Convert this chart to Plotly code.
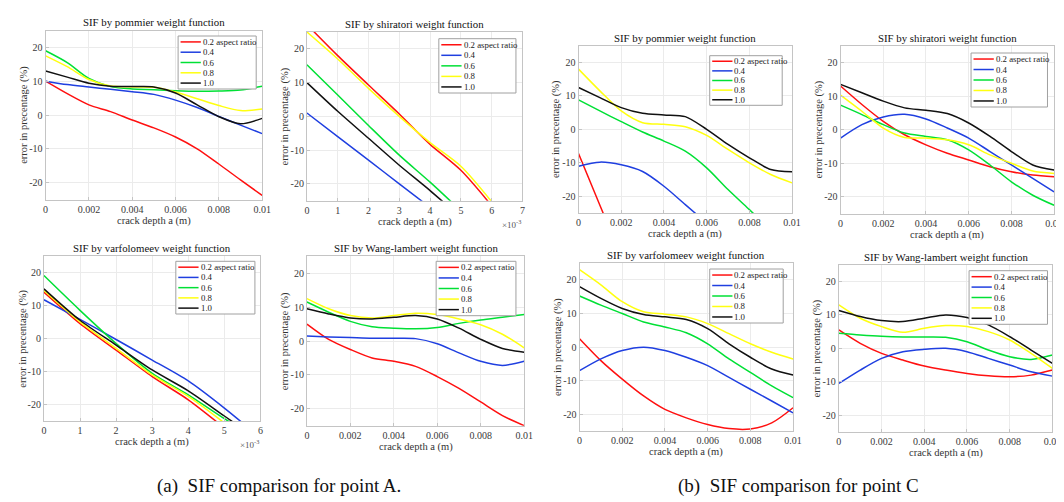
import plotly.graph_objects as go

W, H = 1064, 502
FONT = "Liberation Serif"

# ---------------- data ----------------
LABELS = ["0.2 aspect ratio", "0.4", "0.6", "0.8", "1.0"]
COLORS = ["#ff1010", "#1f3fe0", "#00e035", "#ffff10", "#111111"]

X_10 = [0, 0.001, 0.002, 0.003, 0.004, 0.005, 0.006, 0.007, 0.008, 0.009, 0.01]
X_7 = [0, 0.001, 0.002, 0.003, 0.004, 0.005, 0.006, 0.007]
X_6 = [0, 0.001, 0.002, 0.003, 0.004, 0.005, 0.006]

TICKS_10 = [0, 0.002, 0.004, 0.006, 0.008, 0.01]
TICKTEXT_10 = ["0", "0.002", "0.004", "0.006", "0.008", "0.01"]
TICKS_7 = [0, 0.001, 0.002, 0.003, 0.004, 0.005, 0.006, 0.007]
TICKTEXT_7 = ["0", "1", "2", "3", "4", "5", "6", "7"]
TICKS_6 = [0, 0.001, 0.002, 0.003, 0.004, 0.005, 0.006]
TICKTEXT_6 = ["0", "1", "2", "3", "4", "5", "6"]
Y_TICKS = [-20, -10, 0, 10, 20]
Y_TICKTEXT = ["-20", "-10", "0", "10", "20"]

# point A
A_POMMIER = [
    [10, 6.3, 3.0, 1.0, -1.5, -3.8, -6.5, -10, -14.5, -19.2, -23.8],
    [10, 9.0, 8.3, 7.6, 6.9, 6.1, 4.4, 2.2, -0.4, -3.0, -5.5],
    [19, 15.5, 10.8, 8.4, 7.7, 7.5, 7.2, 7.0, 7.1, 7.4, 8.5],
    [17.5, 14.3, 10.5, 8.6, 8.3, 8.2, 6.8, 4.8, 2.8, 1.3, 1.8],
    [13, 11.2, 9.4, 8.5, 8.4, 8.3, 6.5, 3.0, -0.5, -2.6, -1.0],
]
A_SHIRATORI = [
    [27.2, 18, 9.3, 0.7, -8.3, -16, -26.5, None],
    [1, -6, -13, -20, -27, None, None, None],
    [15.3, 6.3, -2.7, -11.5, -19.5, -28, None, None],
    [25, 17, 8.3, 0, -7.8, -14.8, -25.3, None],
    [10, 1.5, -6.5, -14.5, -22, -30, None, None],
]
A_VARFOLOMEEV = [
    [14, 4.5, -3.5, -11.5, -18.5, -27, None],
    [11.7, 5.8, -0.3, -6.5, -12.8, -21, -30],
    [19, 8.5, -1.5, -10.5, -17, -24.2, -31],
    [14.5, 5, -3, -11, -17.5, -25.5, None],
    [15, 5.5, -2, -9.5, -15.8, -23.4, -31],
]
A_WANG = [
    [5, 0.5, -2.5, -5, -6, -7.5, -10.5, -14, -18, -22, -25],
    [1.5, 1.2, 1.0, 0.8, 0.8, 0.7, -0.8, -3.5, -6, -7.2, -6],
    [11.5, 8.5, 5.8, 4.2, 3.8, 3.6, 4.0, 5.2, 6.2, 7.0, 7.8],
    [12.5, 9.5, 7.5, 6.8, 7.5, 8.2, 7.8, 6.5, 4.8, 2.0, -2.0],
    [9.5, 8.0, 6.8, 6.5, 7.0, 7.5, 6.5, 3.8, 0.5, -2.2, -3.3],
]
# point C
C_POMMIER = [
    [-7.2, -22.7, -38, None, None, None, None, None, None, None, None],
    [-11, -9.8, -10.6, -12.6, -17, -22.5, -28, None, None, None, None],
    [8.8, 5.5, 2.3, -0.8, -3.5, -6.5, -11.5, -18, -24, -30, None],
    [18, 11.5, 5.5, 2.0, 1.5, 0.8, -1.8, -6, -10, -13.5, -16],
    [12.5, 9.5, 6.5, 4.8, 4.3, 3.8, 0, -4.5, -8.5, -12, -12.7],
]
C_SHIRATORI = [
    [13, 7.5, 2.5, -1.5, -4.5, -7, -9, -11, -12.5, -13.5, -14],
    [-2.5, 1.5, 3.8, 4.6, 3.2, 0.5, -2.5, -6.5, -10.5, -14.5, -18.5],
    [7.3, 4.5, 1.5, -1, -2, -3, -6, -10.5, -15.5, -19.5, -22.5],
    [10.3, 5.5, 0.5, -2.3, -2.5, -3, -4.5, -7.5, -10, -12.3, -13],
    [13.5, 11, 8.5, 6.5, 5.8, 4.8, 2, -2, -6.5, -10.5, -12],
]
C_VARFOLOMEEV = [
    [2.5, -4, -9.5, -14.5, -18.5, -21, -23, -24.2, -24.3, -22.5, -18],
    [-7, -3.5, -1, 0, -1, -3, -5.5, -9, -12.5, -16, -19.5],
    [15.2, 12.5, 10, 7.5, 6, 4.3, 1, -3.5, -7.5, -11.5, -15],
    [23, 18.5, 13.5, 10.5, 9.8, 9, 7, 4, 1, -1.5, -3.5],
    [18, 14.5, 11.5, 9.7, 9, 8.2, 5.5, 1, -3, -6.5, -8.3],
]
C_WANG = [
    [5.5, 1.5, -1.5, -3.5, -5.3, -6.5, -7.5, -8.2, -8.5, -8, -6.5],
    [-10.5, -6.5, -3, -1, -0.3, 0, -1, -3, -5, -7, -8.3],
    [4.5, 4, 3.6, 3.4, 3.4, 3.3, 2, -0.5, -2.5, -3.3, -2],
    [13, 9, 6.5, 4.8, 6, 6.8, 6.5, 5, 2.5, -1.5, -6],
    [11.3, 9.5, 8.3, 8, 9, 10, 9.2, 7, 3.5, -0.5, -4.5],
]

# ---------------- layout definitions ----------------
PANELS = [
    dict(title="SIF by pommier weight function", x=X_10, ys=A_POMMIER, xr=[0, 0.01],
         tv=TICKS_10, tt=TICKTEXT_10, box=(35, 22.5, 254, 191.5), leg=(169, 28, 248, 81), exp=False),
    dict(title="SIF by shiratori weight function", x=X_7, ys=A_SHIRATORI, xr=[0, 0.007],
         tv=TICKS_7, tt=TICKTEXT_7, box=(299.3, 24, 517.3, 192.7), leg=(432.7, 30.7, 510.7, 85), exp=True),
    dict(title="SIF by pommier weight function", x=X_10, ys=C_POMMIER, xr=[0, 0.01],
         tv=TICKS_10, tt=TICKTEXT_10, box=(574, 37.7, 790, 205), leg=(706.7, 47.7, 780, 97.3), exp=False),
    dict(title="SIF by shiratori weight function", x=X_10, ys=C_SHIRATORI, xr=[0, 0.01],
         tv=TICKS_10, tt=TICKTEXT_10, box=(839, 37.7, 1055, 205.7), leg=(971, 45, 1048.3, 99), exp=False),
    dict(title="SIF by varfolomeev weight function", x=X_6, ys=A_VARFOLOMEEV, xr=[0, 0.006],
         tv=TICKS_6, tt=TICKTEXT_6, box=(33.3, 247.7, 252.3, 413.3), leg=(166.7, 253.3, 246.7, 306), exp=True),
    dict(title="SIF by Wang-lambert weight function", x=X_10, ys=A_WANG, xr=[0, 0.01],
         tv=TICKS_10, tt=TICKTEXT_10, box=(299.3, 248.3, 519, 417.7), leg=(430, 253.3, 510.7, 307.7), exp=False),
    dict(title="SIF by varfolomeev weight function", x=X_10, ys=C_VARFOLOMEEV, xr=[0, 0.01],
         tv=TICKS_10, tt=TICKTEXT_10, box=(575, 255, 791, 423.3), leg=(706.7, 261, 781, 315), exp=False),
    dict(title="SIF by Wang-lambert weight function", x=X_10, ys=C_WANG, xr=[0, 0.01],
         tv=TICKS_10, tt=TICKTEXT_10, box=(837.3, 256.7, 1053.3, 424), leg=(969, 262.7, 1048.3, 316.3), exp=False),
]


def px(x):
    return x / W


def py(y):
    return 1 - y / H


fig = go.Figure()
layout = dict(
    width=W, height=H, margin=dict(l=0, r=0, t=0, b=0),
    paper_bgcolor="white", plot_bgcolor="white", showlegend=False,
    font=dict(family=FONT, size=10, color="#333333"),
)
shapes, annotations = [], []
AXCOL = "#c4c4c4"
GRIDCOL = "#ebebeb"

for i, p in enumerate(PANELS, start=1):
    x0, y0, x1, y1 = p["box"]
    sfx = "" if i == 1 else str(i)
    layout["xaxis" + sfx] = dict(
        domain=[px(x0), px(x1)], anchor="y" + str(i) if i > 1 else "y",
        range=p["xr"], tickvals=p["tv"], ticktext=p["tt"],
        showgrid=True, gridcolor=GRIDCOL, gridwidth=1, zeroline=False,
        showline=True, mirror=True, linecolor=AXCOL, linewidth=1,
        ticks="inside", ticklen=3, tickcolor=AXCOL,
        tickfont=dict(family=FONT, size=10, color="#3a3a3a"),
    )
    layout["yaxis" + sfx] = dict(
        domain=[py(y1), py(y0)], anchor="x" + str(i) if i > 1 else "x",
        range=[-25, 25], tickvals=Y_TICKS, ticktext=Y_TICKTEXT,
        showgrid=True, gridcolor=GRIDCOL, gridwidth=1, zeroline=False,
        showline=True, mirror=True, linecolor=AXCOL, linewidth=1,
        ticks="inside", ticklen=3, tickcolor=AXCOL,
        tickfont=dict(family=FONT, size=10, color="#3a3a3a"),
    )
    for ys, col in zip(p["ys"], COLORS):
        fig.add_trace(go.Scatter(
            x=p["x"], y=ys, mode="lines",
            line=dict(color=col, width=1.5, shape="spline", smoothing=0.8),
            xaxis="x" + str(i), yaxis="y" + str(i),
            showlegend=False, hoverinfo="skip", connectgaps=False,
        ))

    cx = (x0 + x1) / 2
    cy = (y0 + y1) / 2
    # title
    annotations.append(dict(
        text=p["title"], x=px(cx), y=py(y0 - 8), xref="paper", yref="paper",
        showarrow=False, xanchor="center", yanchor="middle",
        font=dict(family=FONT, size=10.8, color="#111111"),
    ))
    # axis titles
    annotations.append(dict(
        text="crack depth a (m)", x=px(cx), y=py(y1 + 21), xref="paper", yref="paper",
        showarrow=False, xanchor="center", yanchor="middle",
        font=dict(family=FONT, size=10.5, color="#333333"),
    ))
    annotations.append(dict(
        text="error in precentage (%)", x=px(x0 - 22), y=py(cy), xref="paper", yref="paper",
        showarrow=False, xanchor="center", yanchor="middle", textangle=-90,
        font=dict(family=FONT, size=10.5, color="#333333"),
    ))
    if p["exp"]:
        annotations.append(dict(
            text="×10<sup>-3</sup>", x=px(x1 - 11), y=py(y1 + 23), xref="paper", yref="paper",
            showarrow=False, xanchor="center", yanchor="middle",
            font=dict(family=FONT, size=9, color="#555555"),
        ))

    # legend box
    lx0, ly0, lx1, ly1 = p["leg"]
    shapes.append(dict(
        type="rect", xref="paper", yref="paper",
        x0=px(lx0), x1=px(lx1), y0=py(ly1), y1=py(ly0),
        fillcolor="white", line=dict(color="#a0a0a0", width=1), layer="above",
    ))
    hgt = ly1 - ly0
    step = hgt / 5.15
    first = ly0 + (hgt - 4 * step) / 2
    for k, (lab, col) in enumerate(zip(LABELS, COLORS)):
        yy = first + k * step
        shapes.append(dict(
            type="line", xref="paper", yref="paper",
            x0=px(lx0 + 2.5), x1=px(lx0 + 23), y0=py(yy), y1=py(yy),
            line=dict(color=col, width=1.5), layer="above",
        ))
        annotations.append(dict(
            text=lab, x=px(lx0 + 23), y=py(yy), xref="paper", yref="paper",
            showarrow=False, xanchor="left", yanchor="middle",
            font=dict(family=FONT, size=8.8, color="#222222"),
        ))

# captions
annotations.append(dict(
    text="(a)\u00a0\u00a0SIF comparison for point A.", x=px(271), y=py(478),
    xref="paper", yref="paper", showarrow=False, xanchor="center", yanchor="middle",
    font=dict(family=FONT, size=19, color="#111111"),
))
annotations.append(dict(
    text="(b)\u00a0\u00a0SIF comparison for point C", x=px(796), y=py(478),
    xref="paper", yref="paper", showarrow=False, xanchor="center", yanchor="middle",
    font=dict(family=FONT, size=19, color="#111111"),
))

layout["shapes"] = shapes
layout["annotations"] = annotations
fig.update_layout(**layout)
fig.write_html("out.html")
